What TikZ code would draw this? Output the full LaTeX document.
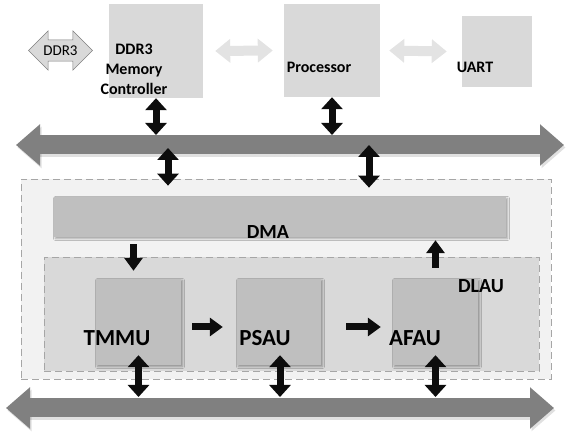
\documentclass[tikz,border=0pt]{standalone}
\usepackage{fontspec}
\setmainfont{Carlito}
\usetikzlibrary{arrows.meta,shapes.arrows,shadows.blur,calc}
\definecolor{boxgray}{HTML}{D9D9D9}
\definecolor{unitgray}{HTML}{BFBFBF}
\definecolor{areagray}{HTML}{F2F2F2}
\definecolor{busgray}{HTML}{808080}
\definecolor{linkgray}{HTML}{E3E3E3}
\definecolor{dashgray}{HTML}{A6A6A6}
\tikzstyle{bus}=[line width=19pt,draw=busgray,{Triangle[width=40pt,length=24pt]}-{Triangle[width=40pt,length=24pt]}]

\begin{document}
\begin{tikzpicture}
  [x=1pt,y=-1pt,
   box/.style={fill=boxgray,inner sep=0pt},
   unit/.style={fill=unitgray,inner sep=0pt,
     blur shadow={shadow xshift=1.5pt,shadow yshift=-1.5pt,shadow blur radius=2pt,shadow opacity=35}},
   area/.style={draw=dashgray,line width=0.7pt,dash pattern=on 7pt off 4pt,inner sep=0pt},
   lbl/.style={font=\bfseries\fontsize{16}{20}\selectfont,anchor=base},
   biglbl/.style={font=\bfseries\fontsize{23}{26}\selectfont,anchor=base},
   midlbl/.style={font=\bfseries\fontsize{20}{24}\selectfont,anchor=base},
   link/.style={line width=10pt,draw=linkgray,{Triangle[width=23pt,length=15pt]}-{Triangle[width=23pt,length=15pt]}},
   dblk/.style={line width=7pt,draw=black!95,{Triangle[width=21pt,length=12pt]}-{Triangle[width=21pt,length=12pt]}},
   blk/.style={line width=7pt,draw=black!95,-{Triangle[width=18pt,length=13pt]}},
   busshadow/.style={bus,draw=black,opacity=0.12,transform canvas={xshift=1.5pt,yshift=-2.5pt}}
  ]
  \useasboundingbox (0,0) rectangle (568,435);

  % top row
  \node[box,minimum width=94pt,minimum height=94pt] (ctrl) at (156,51) {};
  \node[box,minimum width=96pt,minimum height=93pt] (proc) at (332,50.5) {};
  \node[box,minimum width=70pt,minimum height=71pt] (uart) at (497,51.5) {};
  \node[double arrow,draw=busgray,fill=boxgray,line width=0.5pt,
        minimum height=64pt,inner xsep=2pt,inner ysep=5.5pt,
        double arrow head extend=9pt,font=\fontsize{15}{18}\selectfont] (ddr) at (60.5,50.5) {DDR3};
  \node[lbl,align=center,anchor=center] (ctrltxt) at (134,69) {DDR3\\Memory\\Controller};
  \node[lbl] (proctxt) at (319,73) {Processor};
  \node[lbl] (uarttxt) at (475,73) {UART};
  \draw[link] ([xshift=12pt]ctrl.east) -- ([xshift=-11pt]proc.west);
  \draw[link] ([xshift=9pt]proc.east) -- ([xshift=-15pt]uart.west);

  % accelerator area
  \node[area,fill=areagray,minimum width=530pt,minimum height=200pt] (outer) at (286,279) {};
  \node[unit,minimum width=452pt,minimum height=40pt] (dma) at (280,217) {};
  \node[area,fill=boxgray,minimum width=495pt,minimum height=114pt] (dlau) at (291.5,314) {};
  \node[unit,minimum width=85pt,minimum height=86pt] (tmmu) at (138.5,322) {};
  \node[unit,minimum width=84pt,minimum height=86pt] (psau) at (279,322) {};
  \node[unit,minimum width=85pt,minimum height=86pt] (afau) at (435.5,322) {};
  \node[midlbl] (dmatxt) at (268,239) {DMA};
  \node[midlbl] (dlautxt) at (481,293) {DLAU};
  \node[biglbl] (tmmutxt) at (117,346) {TMMU};
  \node[biglbl] (psautxt) at (265,346) {PSAU};
  \node[biglbl] (afautxt) at (415,346) {AFAU};

  % buses
  \node[font=\fontsize{14}{16}\selectfont,text=white] (bustxt) at (282,159) {Data Bus (AXI Stream)};
  \coordinate (tbL) at (16,145);
  \coordinate (tbR) at (564,145);
  \coordinate (bbL) at (6,408);
  \coordinate (bbR) at (554,408);
  \draw[busshadow] (tbL) -- (tbR);
  \draw[busshadow] (bbL) -- (bbR);
  \draw[bus] (tbL) -- (tbR);
  \draw[bus] (bbL) -- (bbR);
  \coordinate (tbN) at (0,135);
  \coordinate (bbN) at (0,397);
  \coordinate (dn1) at (168,148);
  \coordinate (dn2) at (369,145);

  %connections
  \draw[dblk] (ctrl.south) -- (ctrl.south |- tbN);
  \draw[dblk] (proc.south) -- (proc.south |- tbN);
  \draw[dblk] (dn1) -- ([yshift=-7pt]outer.north -| dn1);
  \draw[dblk] (dn2) -- ([yshift=-9pt]outer.north -| dn2);
  \draw[blk] ([xshift=-5pt,yshift=-7pt]dma.south -| tmmu.north) -- ([xshift=-5pt,yshift=8pt]tmmu.north);
  \draw[blk] ([yshift=11pt]afau.north) -- ([yshift=-3pt]afau.north |- dma.south);
  \draw[blk] ([xshift=11pt,yshift=-5pt]tmmu.east) -- ([xshift=-14pt,yshift=-5pt]psau.west);
  \draw[blk] ([xshift=25pt,yshift=-5pt]psau.east) -- ([xshift=-12pt,yshift=-5pt]afau.west);
  \draw[dblk] ([yshift=10pt]tmmu.south) -- (tmmu.south |- bbN);
  \draw[dblk] ([xshift=1pt,yshift=10pt]psau.south) -- ([xshift=1pt]psau.south |- bbN);
  \draw[dblk] ([yshift=10pt]afau.south) -- (afau.south |- bbN);
\end{tikzpicture}
\end{document}
